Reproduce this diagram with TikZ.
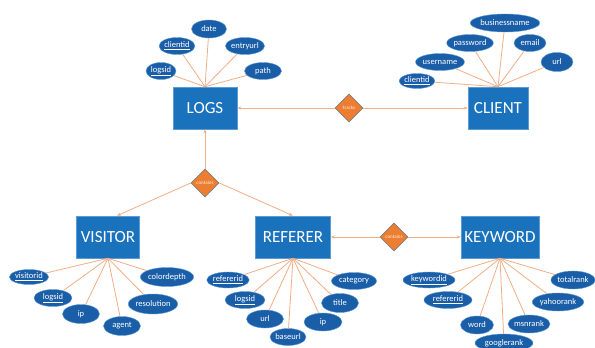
\documentclass[tikz,border=0pt]{standalone}
\usepackage{fontspec}
\setmainfont{Carlito}
\usetikzlibrary{shapes.geometric,arrows.meta,calc}

\definecolor{entityblue}{HTML}{1A72BD}
\definecolor{entityedge}{HTML}{5B9BD5}
\definecolor{attrblue}{HTML}{1B5EA8}
\definecolor{linkcol}{HTML}{F2AE85}
\definecolor{relfill}{HTML}{ED7D31}
\definecolor{reledge}{HTML}{808080}

\tikzset{
  entity/.style={draw=entityedge, line width=0.6pt, fill=entityblue, text=white,
    minimum height=42pt, inner sep=0pt, font=\fontsize{17}{19}\selectfont},
  attr/.style={ellipse, draw=entityedge, line width=0.4pt, fill=attrblue, text=white,
    inner sep=0pt, minimum height=17pt, font=\fontsize{8.5}{9}\selectfont},
  rel/.style={diamond, aspect=1, draw=reledge, line width=0.6pt, fill=relfill,
    text=white!90!relfill, inner sep=0pt, minimum size=28pt,
    font=\fontsize{5}{6}\selectfont},
  attrline/.style={draw=linkcol, line width=0.8pt},
  relarrow/.style={draw=linkcol, line width=0.8pt, -{Stealth[length=4pt,width=3.2pt]}},
}

\begin{document}
\begin{tikzpicture}[x=1pt, y=-1pt]
  \useasboundingbox (0,0) rectangle (595,348);
  \fill[white] (0,0) rectangle (595,348);

  % entities
  \node[entity, minimum width=64pt] (logs)    at (205,108) {LOGS};
  \node[entity, minimum width=60pt] (client)  at (498,108) {CLIENT};
  \node[entity, minimum width=63pt] (visitor) at (108,237) {VISITOR};
  \node[entity, minimum width=75pt] (referer) at (293,237) {REFERER};
  \node[entity, minimum width=78pt] (keyword) at (500,237) {KEYWORD};

  % relationships
  \node[rel] (tracks)    at (349,108) {tracks};
  \node[rel] (contains)  at (205,183) {contains};
  \node[rel] (contains2) at (394,237) {contains};

  % LOGS attributes
  \node[attr, minimum width=30pt] (lg1) at (161,71) {\underline{logsid}};
  \node[attr, minimum width=34pt] (lg2) at (177,46) {\underline{clientid}};
  \node[attr, minimum width=35pt, minimum height=18pt] (lg3) at (209,29) {date};
  \node[attr, minimum width=37pt] (lg4) at (245,46) {entryurl};
  \node[attr, minimum width=37pt] (lg5) at (263,71) {path};

  % CLIENT attributes
  \node[attr, minimum width=35pt, minimum height=15pt] (cl1) at (417,81) {\underline{clientid}};
  \node[attr, minimum width=44pt] (cl2) at (440,62) {username};
  \node[attr, minimum width=41pt] (cl3) at (470,43) {password};
  \node[attr, minimum width=64pt, minimum height=18pt] (cl4) at (505,23) {businessname};
  \node[attr, minimum width=32pt] (cl5) at (530,43) {email};
  \node[attr, minimum width=32pt, minimum height=19pt] (cl6) at (557,62) {url};

  % VISITOR attributes
  \node[attr, minimum width=35pt, minimum height=15pt] (vi1) at (29,277) {\underline{visitorid}};
  \node[attr, minimum width=38pt] (vi2) at (53,298) {\underline{logsid}};
  \node[attr, minimum width=37pt, minimum height=19pt] (vi3) at (81,314) {ip};
  \node[attr, minimum width=37pt, minimum height=19pt] (vi4) at (122,326) {agent};
  \node[attr, minimum width=48pt, minimum height=20pt] (vi5) at (153,304) {resolution};
  \node[attr, minimum width=53pt, minimum height=19pt] (vi6) at (167,277) {colordepth};

  % REFERER attributes
  \node[attr, minimum width=41pt, minimum height=16pt] (re1) at (228,280) {\underline{refererid}};
  \node[attr, minimum width=40pt] (re2) at (245,300) {\underline{logsid}};
  \node[attr, minimum width=37pt, minimum height=18pt] (re3) at (265,319) {url};
  \node[attr, minimum width=33pt] (re4) at (288,337) {baseurl};
  \node[attr, minimum width=38pt, minimum height=18pt] (re5) at (323,322) {ip};
  \node[attr, minimum width=37pt, minimum height=19pt] (re6) at (340,303) {title};
  \node[attr, minimum width=45pt] (re7) at (354,281) {category};

  % KEYWORD attributes
  \node[attr, minimum width=52pt, minimum height=16pt] (kw1) at (429,280) {\underline{keywordid}};
  \node[attr, minimum width=48pt] (kw2) at (448,300) {\underline{refererid}};
  \node[attr, minimum width=33pt, minimum height=18pt] (kw3) at (477,325) {word};
  \node[attr, minimum width=58pt, minimum height=18pt] (kw4) at (504,343) {googlerank};
  \node[attr, minimum width=37pt, minimum height=18pt] (kw5) at (529,324) {msnrank};
  \node[attr, minimum width=48pt, minimum height=18pt] (kw6) at (558,302) {yahoorank};
  \node[attr, minimum width=44pt, minimum height=18pt] (kw7) at (573,280) {totalrank};

  % attribute links
  \foreach \a in {lg1,lg2,lg3,lg4,lg5} \draw[attrline] (logs.north) -- (\a);
  \foreach \a in {cl1,cl2,cl3,cl4,cl5,cl6} \draw[attrline] (client.north) -- (\a);
  \foreach \a in {vi1,vi2,vi3,vi4,vi5,vi6} \draw[attrline] (visitor.south) -- (\a);
  \foreach \a in {re1,re2,re3,re4,re5,re6,re7} \draw[attrline] (referer.south) -- (\a);
  \foreach \a in {kw1,kw2,kw3,kw4,kw5,kw6,kw7} \draw[attrline] (keyword.south) -- (\a);

  % relationship links
  \draw[relarrow] (tracks) -- (logs);
  \draw[relarrow] (tracks) -- (client);
  \draw[relarrow] (contains) -- (logs);
  \draw[relarrow] (contains.west) -- ($(visitor.north)+(9,0)$);
  \draw[relarrow] (contains.east) -- (referer.north);
  \draw[relarrow] (contains2) -- (referer);
  \draw[relarrow] (contains2) -- (keyword);
\end{tikzpicture}
\end{document}
